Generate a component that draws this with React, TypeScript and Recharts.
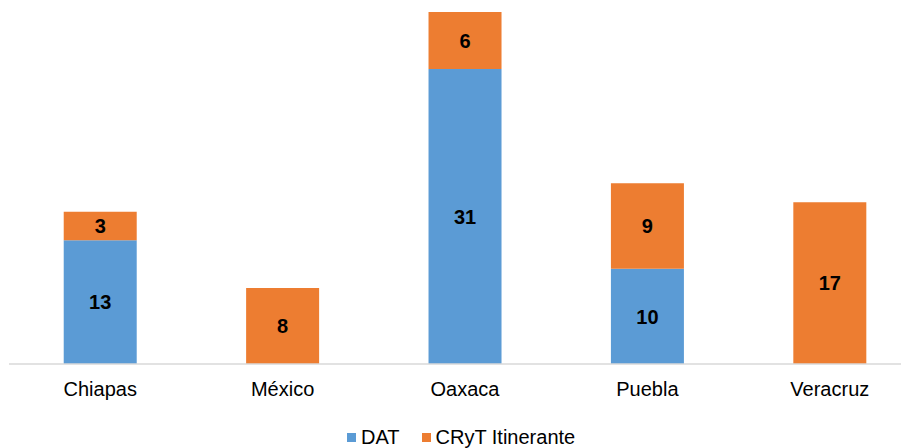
import React from "react";
import { BarChart, Bar, XAxis, YAxis, LabelList } from "recharts";

const categories = ["Chiapas", "México", "Oaxaca", "Puebla", "Veracruz"];
const datValues = [13, 0, 31, 10, 0];
const crytValues = [3, 8, 6, 9, 17];
const seriesNames = ["DAT", "CRyT Itinerante"];
const colors = ["#5B9BD5", "#ED7D31"];

const data = categories.map((c, i) => ({ name: c, dat: datValues[i], cryt: crytValues[i] }));

const FONT = "'Liberation Sans', Arial, sans-serif";

const fmt = (v: any) => (v ? v : "");

const labelStyle = { fill: "#000", fontWeight: "bold", fontSize: 20, fontFamily: FONT } as const;

export default function App() {
  return (
    <div style={{ width: 901, height: 440, overflow: "hidden", position: "relative" }}>
      <BarChart
        width={913}
        height={440}
        data={data}
        margin={{ top: 4, right: 0, bottom: 54, left: 1 }}
        barCategoryGap="30%"
      >
        <XAxis
          dataKey="name"
          height={30}
          axisLine={{ stroke: "#D9D9D9", strokeWidth: 1.5 }}
          tickLine={false}
          tickSize={0}
          tickMargin={18}
          tick={{ fill: "#000", fontSize: 20, fontFamily: FONT }}
          interval={0}
        />
        <YAxis hide domain={[0, 37]} />
        <Bar dataKey="dat" stackId="a" fill={colors[0]} isAnimationActive={false}>
          <LabelList dataKey="dat" position="center" formatter={fmt} style={labelStyle} />
        </Bar>
        <Bar dataKey="cryt" stackId="a" fill={colors[1]} isAnimationActive={false}>
          <LabelList dataKey="cryt" position="center" formatter={fmt} style={labelStyle} />
        </Bar>
      </BarChart>
      <div
        style={{
          position: "absolute",
          top: 418,
          left: 339,
          height: 23,
          lineHeight: "23px",
          display: "flex",
          alignItems: "center",
          fontFamily: FONT,
          fontSize: 20,
          color: "#000",
          whiteSpace: "nowrap",
        }}
      >
        {seriesNames.map((n, i) => (
          <div key={n} style={{ display: "flex", alignItems: "center", marginRight: i === 0 ? 22 : 0 }}>
            <span style={{ display: "inline-block", width: 9, height: 9, background: colors[i], marginRight: 5 }} />
            <span>{n}</span>
          </div>
        ))}
      </div>
    </div>
  );
}
